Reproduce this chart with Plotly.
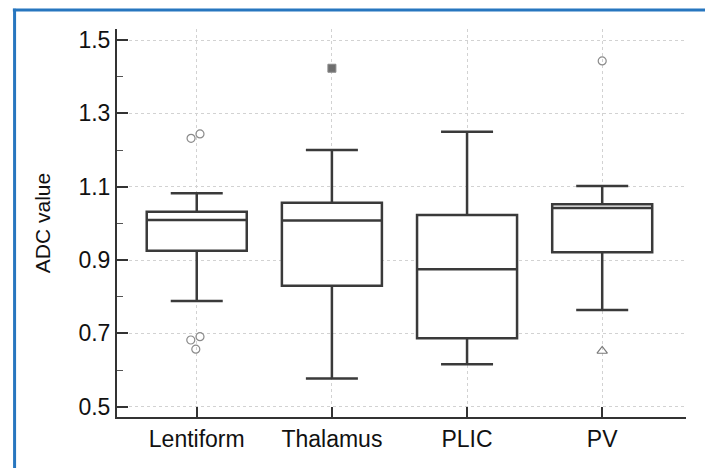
import plotly.graph_objects as go

categories = ["Lentiform", "Thalamus", "PLIC", "PV"]
q1 = [0.925, 0.830, 0.687, 0.921]
median = [1.009, 1.008, 0.875, 1.042]
q3 = [1.032, 1.056, 1.023, 1.052]
lower_fence = [0.788, 0.577, 0.616, 0.764]
upper_fence = [1.082, 1.200, 1.250, 1.102]

# outliers: (category index, jitter offset, value)
circle_out_x = [0, 0, 0, 0, 0, 3]
circle_out_jit = [-0.042, 0.024, -0.044, 0.024, -0.007, 0.0]
circle_out_y = [1.232, 1.244, 0.682, 0.691, 0.657, 1.443]
square_out_x = [1]
square_out_y = [1.423]
triangle_out_x = [3]
triangle_out_y = [0.652]

y_major = [0.5, 0.7, 0.9, 1.1, 1.3, 1.5]
y_minor = [0.6, 0.8, 1.0, 1.2, 1.4]

BOX = "#3a3a3a"
FONT = "Arial, Liberation Sans, sans-serif"

fig = go.Figure()
for i, c in enumerate(categories):
    fig.add_trace(go.Box(
        x=[i], q1=[q1[i]], median=[median[i]], q3=[q3[i]],
        lowerfence=[lower_fence[i]], upperfence=[upper_fence[i]],
        width=0.74, whiskerwidth=0.52, boxpoints=False,
        line=dict(color=BOX, width=2.5), fillcolor="white",
        name=c, showlegend=False, hoverinfo="skip",
    ))

fig.add_trace(go.Scatter(
    x=[a + b for a, b in zip(circle_out_x, circle_out_jit)], y=circle_out_y,
    mode="markers", showlegend=False,
    marker=dict(symbol="circle-open", size=8, color="#8a8a8a", line=dict(width=1.2)),
))
fig.add_trace(go.Scatter(
    x=square_out_x, y=square_out_y, mode="markers", showlegend=False,
    marker=dict(symbol="square", size=8, color="#6e6e6e", line=dict(width=1, color="#8a8a8a")),
))
fig.add_trace(go.Scatter(
    x=triangle_out_x, y=triangle_out_y, mode="markers", showlegend=False,
    marker=dict(symbol="triangle-up-open", size=9, color="#7a7a7a", line=dict(width=1.2)),
))

# blue frame (top and left edges)
fig.add_shape(type="line", xref="paper", yref="paper", x0=-0.183, x1=1.06, y0=1.049, y1=1.049,
              line=dict(color="#2776bf", width=3))
fig.add_shape(type="line", xref="paper", yref="paper", x0=-0.180, x1=-0.180, y0=1.052, y1=-0.2,
              line=dict(color="#2776bf", width=3))

fig.update_layout(
    width=705, height=468,
    margin=dict(l=117, r=19, t=29, b=51, autoexpand=False),
    paper_bgcolor="white", plot_bgcolor="white",
    font=dict(family=FONT, color="#111111"),
)
fig.update_xaxes(
    range=[-0.59, 3.62], tickvals=[0, 1, 2, 3], ticktext=categories,
    showline=True, linecolor="#333333", linewidth=2,
    ticks="inside", ticklen=10, tickwidth=2, tickcolor="#333333",
    showgrid=True, gridcolor="#d2d2d2", griddash="dot", gridwidth=1,
    zeroline=False, tickfont=dict(size=23, family=FONT, color="#111111"),
)
fig.update_yaxes(
    range=[0.472, 1.530], tickvals=y_major, ticktext=[f"{v:.1f}" for v in y_major],
    showline=True, linecolor="#333333", linewidth=2,
    ticks="inside", ticklen=11, tickwidth=2, tickcolor="#333333",
    minor=dict(tickvals=y_minor, ticks="inside", ticklen=6, tickwidth=1, tickcolor="#555555", showgrid=False),
    showgrid=True, gridcolor="#d2d2d2", griddash="dot", gridwidth=1,
    zeroline=False, tickfont=dict(size=23, family=FONT, color="#111111"),
    title=dict(text="ADC value", font=dict(size=21, family=FONT, color="#111111"), standoff=22),
)

fig.write_html("out.html", config={"displayModeBar": False},
               post_script="document.body.style.margin='0';")
